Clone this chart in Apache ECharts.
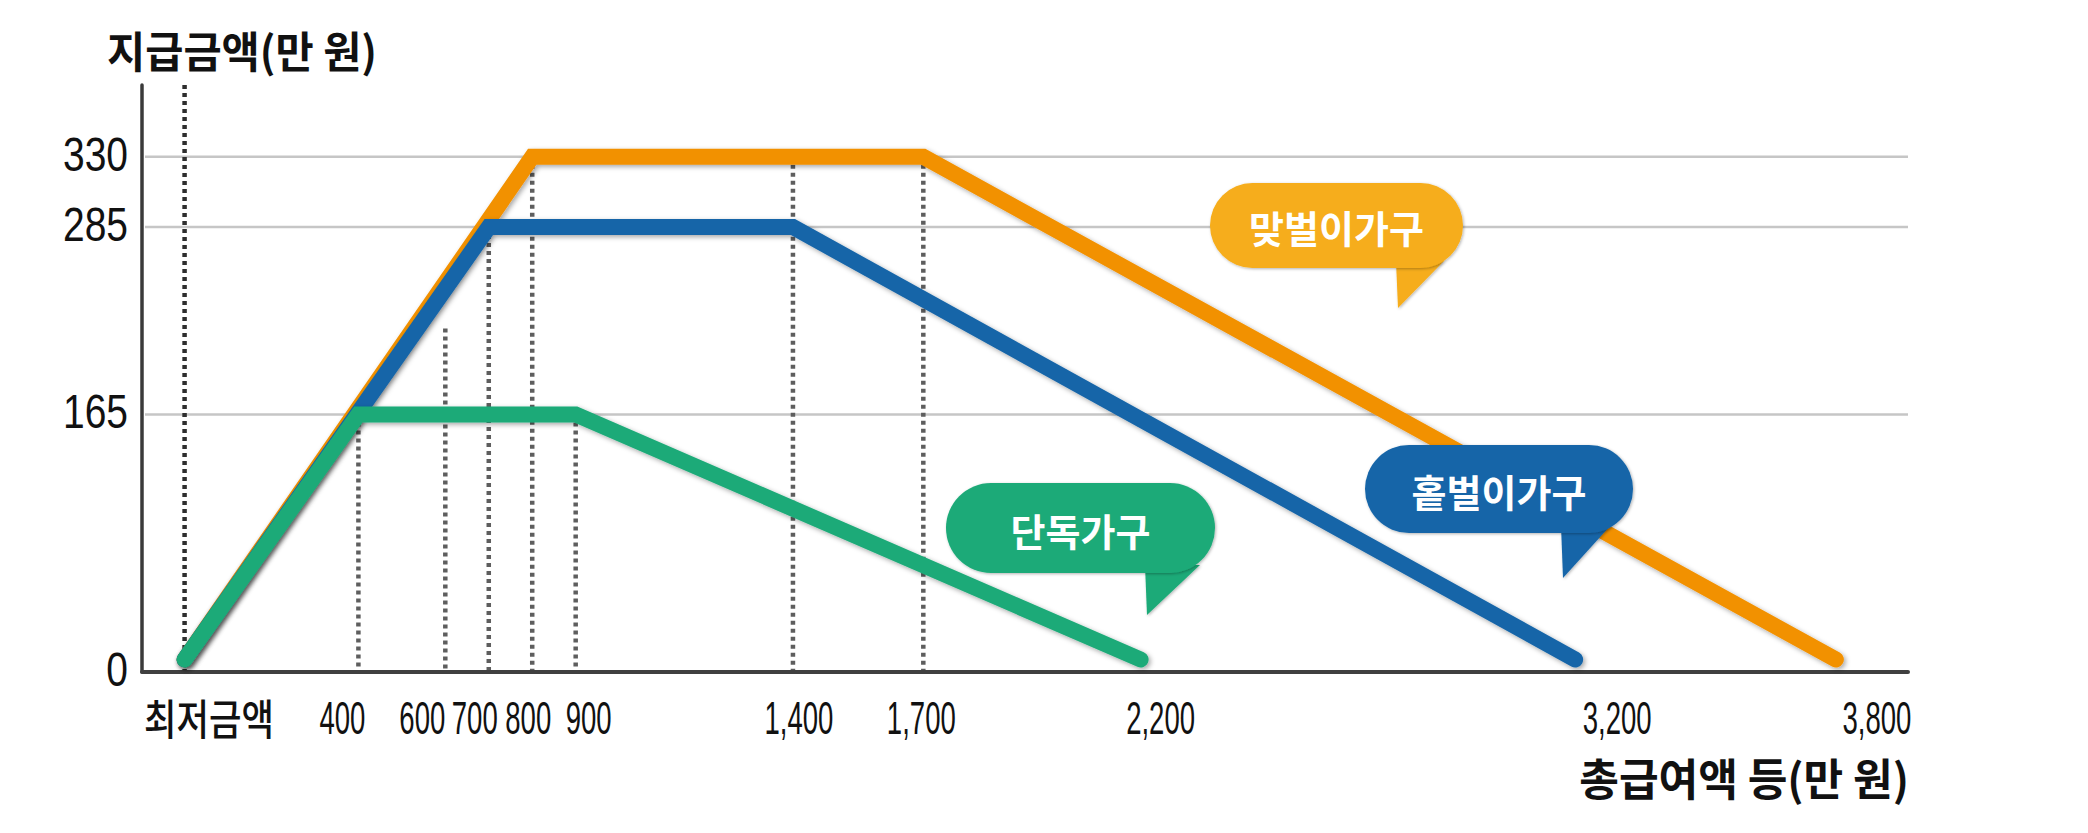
<!DOCTYPE html>
<html><head><meta charset="utf-8">
<script src="https://cdn.jsdelivr.net/npm/echarts@6/dist/echarts.min.js"></script>
<style>html,body{margin:0;padding:0;background:#fff}#chart{width:2088px;height:833px}</style>
</head><body><div id="chart"></div>
<script>
// ---------------- data ----------------
const xTickValues = [0, 400, 600, 700, 800, 900, 1400, 1700, 2200, 3200, 3800];
const xTickLabels = ['최저금액', '400', '600', '700', '800', '900', '1,400', '1,700', '2,200', '3,200', '3,800'];
const yTickValues = [0, 165, 285, 330];
const yTickLabels = ['0', '165', '285', '330'];

const seriesNames = ['맞벌이가구', '홑벌이가구', '단독가구'];
const dualX = [0, 800, 1700, 3800];
const dualY = [8, 330, 330, 8];
const singleEarnerX = [0, 700, 1400, 3200];
const singleEarnerY = [8, 285, 285, 8];
const singleX = [0, 400, 900, 2200];
const singleY = [8, 165, 165, 8];

// dotted guide lines: x value and the value they rise to (null = top of the axis)
const guideX = [0, 400, 600, 700, 800, 900, 1400, 1700];
const guideTop = [null, 165, 220, 285, 330, 165, 330, 330];

const yAxisTitle = '지급금액(만 원)';
const xAxisTitle = '총급여액 등(만 원)';

// ---------------- layout / style ----------------
const X_MIN = -98, X_MAX = 3966, Y_MAX = 376;
const COLORS = ['#F29100', '#1565A8', '#1DAA78'];
const BUBBLE_COLORS = ['#F6AD1B', '#1565A8', '#1DAA78'];
// horizontal nudge of each x label relative to its tick (label layout)
const xLabelShift = [0, -16, -23, -14, -4, 13, 6, -2, 20, 42, 41];

function hasFont(name) {
  const c = document.createElement('canvas').getContext('2d');
  c.font = '40px monospace';
  const w0 = c.measureText('0123456789가나').width;
  c.font = '40px "' + name + '", monospace';
  return c.measureText('0123456789가나').width !== w0;
}
const NUM_FAMILY = hasFont('Liberation Sans Narrow') ? '"Liberation Sans Narrow"' : '"Liberation Sans", Arial, sans-serif';
const KR_FAMILY = '"Noto Sans CJK KR", "Noto Sans", sans-serif';
const mctx = document.createElement('canvas').getContext('2d');
function fitScale(text, font, target) {
  mctx.font = font;
  return target / mctx.measureText(text).width;
}
const X_NUM_FONT = '46px ' + NUM_FAMILY;
const X_NUM_SX = fitScale('000', X_NUM_FONT, 46);
const Y_NUM_FONT = '48px ' + NUM_FAMILY;
const Y_NUM_SX = fitScale('330', Y_NUM_FONT, 65);
const MIN_FONT = '500 42px ' + KR_FAMILY;
const MIN_SX = fitScale('최저금액', MIN_FONT, 130);
const TITLE_FONT = 'bold 43px ' + KR_FAMILY;
const YT_SX = fitScale(yAxisTitle, TITLE_FONT, 270);
const XTITLE_FONT = 'bold 44px ' + KR_FAMILY;
const XT_SX = fitScale(xAxisTitle, XTITLE_FONT, 330);

const chart = echarts.init(document.getElementById('chart'), null, { renderer: 'svg' });

function lineSeries(name, xs, ys, color) {
  return {
    name, type: 'line', symbol: 'none', z: 5,
    data: xs.map((x, i) => [x, ys[i]]),
    lineStyle: {
      color, width: 16, cap: 'round', join: 'miter',
      shadowBlur: 5, shadowColor: 'rgba(0,0,0,0.35)', shadowOffsetX: 2, shadowOffsetY: 2
    }
  };
}

function bubble(x, y, w, h, tail, color, text) {
  return {
    type: 'group', x, y, z: 100,
    children: [
      { type: 'polygon', z: 100, shape: { points: tail },
        style: { fill: color, shadowBlur: 3, shadowColor: 'rgba(0,0,0,0.3)', shadowOffsetX: 1, shadowOffsetY: 1 } },
      { type: 'rect', z: 101, shape: { x: 0, y: 0, width: w, height: h, r: h / 2 },
        style: { fill: color, shadowBlur: 3, shadowColor: 'rgba(0,0,0,0.3)', shadowOffsetX: 1, shadowOffsetY: 1 } },
      { type: 'text', z: 102, x: w / 2, y: h / 2 + 1,
        style: { text, fill: '#fff', font: 'bold 38px ' + KR_FAMILY, align: 'center', verticalAlign: 'middle' } }
    ]
  };
}

const option = {
  animation: false,
  backgroundColor: '#fff',
  grid: { left: 142, right: 180, top: 85, bottom: 161 },
  xAxis: {
    type: 'value', min: X_MIN, max: X_MAX,
    axisLine: { show: true, onZero: false, lineStyle: { color: '#404040', width: 4 } },
    axisTick: { show: false }, axisLabel: { show: false }, splitLine: { show: false }
  },
  yAxis: {
    type: 'value', min: 0, max: Y_MAX,
    axisLine: { show: true, onZero: false, lineStyle: { color: '#3a3a3a', width: 3.5 } },
    axisTick: { show: false }, axisLabel: { show: false }, splitLine: { show: false }
  },
  graphic: [
    { type: 'text', x: 107, y: 49, scaleX: YT_SX, z: 100,
      style: { text: yAxisTitle, font: TITLE_FONT, fill: '#111', align: 'left', verticalAlign: 'middle' } },
    { type: 'text', x: 1909, y: 777, scaleX: XT_SX, z: 100,
      style: { text: xAxisTitle, font: XTITLE_FONT, fill: '#111', align: 'right', verticalAlign: 'middle' } },
    bubble(1210, 183, 253, 85, [[186, 78], [234, 78], [188, 125]], BUBBLE_COLORS[0], seriesNames[0]),
    bubble(1365, 445, 268, 88, [[196, 80], [246, 80], [198, 133]], BUBBLE_COLORS[1], seriesNames[1]),
    bubble(946, 483, 269, 90, [[199, 82], [254, 82], [201, 132]], BUBBLE_COLORS[2], seriesNames[2])
  ],
  series: [
    { // horizontal grid lines at the y ticks
      type: 'custom', z: 1, silent: true,
      data: yTickValues.filter(v => v > 0).map(v => [X_MIN, v]),
      renderItem(params, api) {
        const cs = params.coordSys;
        const y = api.coord([X_MIN, api.value(1)])[1];
        return { type: 'line', shape: { x1: cs.x + 3, y1: y, x2: cs.x + cs.width, y2: y },
          style: { stroke: '#c6c6c6', lineWidth: 2.5 } };
      }
    },
    { // dotted guide lines
      type: 'custom', z: 2, silent: true,
      data: guideX.map((x, i) => [x, guideTop[i] == null ? Y_MAX : guideTop[i], i]),
      renderItem(params, api) {
        const x = api.value(0), top = api.value(1), i = api.value(2);
        const p1 = api.coord([x, top]), p0 = api.coord([x, 0]);
        return { type: 'line', shape: { x1: p1[0], y1: p1[1], x2: p0[0], y2: p0[1] - 2 },
          style: { stroke: i === 0 ? '#2e2e2e' : '#5e5e5e', lineWidth: 4.5, lineDash: [4, 4] } };
      }
    },
    lineSeries(seriesNames[0], dualX, dualY, COLORS[0]),
    lineSeries(seriesNames[1], singleEarnerX, singleEarnerY, COLORS[1]),
    lineSeries(seriesNames[2], singleX, singleY, COLORS[2]),
    { // x tick labels
      type: 'custom', z: 10, silent: true,
      data: xTickValues.map((v, i) => [v, 0, i]),
      renderItem(params, api) {
        const i = api.value(2);
        const p = api.coord([api.value(0), 0]);
        if (i === 0) {
          return { type: 'text', x: params.coordSys.x + 2, y: p[1] + 45, scaleX: MIN_SX,
            style: { text: xTickLabels[i], font: MIN_FONT, fill: '#111', align: 'left', verticalAlign: 'middle' } };
        }
        return { type: 'text', x: p[0] + xLabelShift[i], y: p[1] + 46, scaleX: X_NUM_SX,
          style: { text: xTickLabels[i], font: X_NUM_FONT, fill: '#111', align: 'center', verticalAlign: 'middle' } };
      }
    },
    { // y tick labels
      type: 'custom', z: 10, silent: true,
      data: yTickValues.map((v, i) => [X_MIN, v, i]),
      renderItem(params, api) {
        const i = api.value(2);
        const p = api.coord([X_MIN, api.value(1)]);
        return { type: 'text', x: p[0] - 14, y: p[1] - 3, scaleX: Y_NUM_SX,
          style: { text: yTickLabels[i], font: Y_NUM_FONT, fill: '#111', align: 'right', verticalAlign: 'middle' } };
      }
    }
  ]
};
chart.setOption(option);
</script></body></html>
